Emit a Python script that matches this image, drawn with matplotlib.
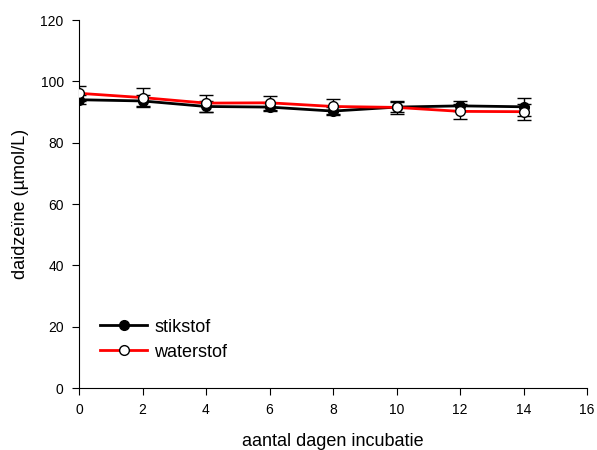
import matplotlib.pyplot as plt
import numpy as np

plt.rcParams['font.family'] = ['Liberation Sans', 'DejaVu Sans']

dagen = [0, 2, 4, 6, 8, 10, 12, 14]
stikstof = [94.0, 93.6, 91.8, 91.6, 90.3, 91.6, 92.0, 91.7]
stikstof_err = [1.4, 1.8, 1.7, 1.3, 1.4, 1.6, 1.6, 3.0]
waterstof = [96.1, 94.7, 92.9, 93.0, 91.8, 91.5, 90.2, 90.1]
waterstof_err = [2.5, 3.2, 2.8, 2.3, 2.3, 2.1, 2.4, 2.6]

fig = plt.figure(figsize=(5.97, 4.5), dpi=100)
ax = fig.add_axes([79/597, 1-388/450, 508/597, 368/450])

ax.errorbar(dagen, stikstof, yerr=stikstof_err, color='black', lw=2,
            marker='o', ms=7, mfc='black', mec='black',
            ecolor='black', elinewidth=1, capsize=5, capthick=1,
            label='stikstof', zorder=3)
ax.errorbar(dagen, waterstof, yerr=waterstof_err, color='red', lw=2,
            marker='o', ms=7, mfc='white', mec='black', mew=1,
            ecolor='black', elinewidth=1, capsize=5, capthick=1,
            label='waterstof', zorder=4)

ax.set_xlim(0, 16)
ax.set_ylim(0, 120)
ax.set_xticks(np.arange(0, 17, 2))
ax.set_yticks(np.arange(0, 121, 20))
ax.spines['top'].set_visible(False)
ax.spines['right'].set_visible(False)
ax.tick_params(direction='out', labelsize=10, length=5, pad=6)
ax.set_xlabel('aantal dagen incubatie', fontsize=13, labelpad=11)
ax.set_ylabel('daidzeïne (µmol/L)', fontsize=13, labelpad=8)

handles, labels = ax.get_legend_handles_labels()
handles = [h[0] for h in handles]
ax.legend(handles, labels, loc='lower left', bbox_to_anchor=(0.01, 0.03),
          frameon=False, fontsize=13, handlelength=2.6, handletextpad=0.4,
          labelspacing=0.45)

fig.savefig('out.png', dpi=100)
